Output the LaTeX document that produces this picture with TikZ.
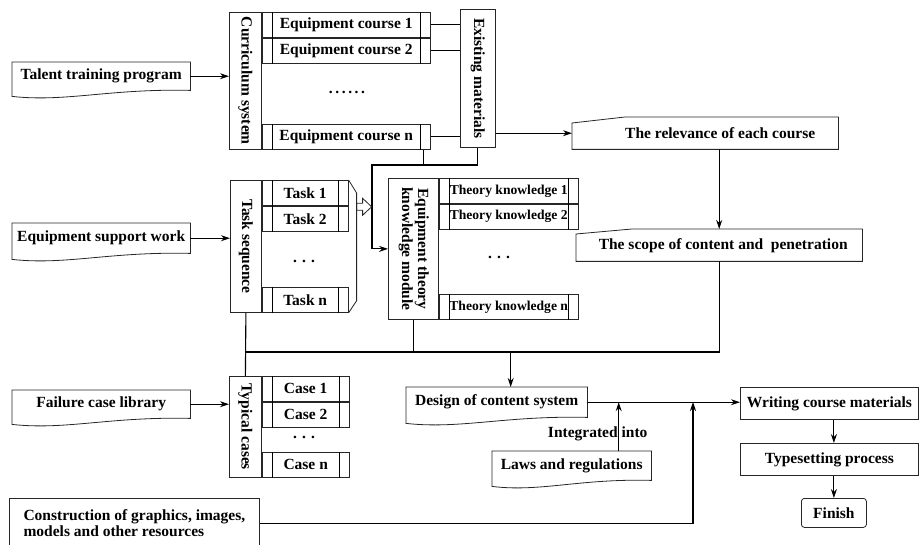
\documentclass[tikz,border=0pt]{standalone}
\usepackage{fontspec}
\setmainfont{Liberation Serif}
\usepackage{graphicx}
\usetikzlibrary{arrows.meta, positioning, calc}

% document shape: wavy bottom edge below the node
\newcommand\docshape[1]{%
  \draw[box] (#1.north west) -- (#1.north east) -- (#1.south east)
    .. controls ($(#1.south east)!0.45!(#1.south west)+(0,-2)$) and ($(#1.south east)!0.7!(#1.south west)+(0,12)$)
    .. ($(#1.south west)+(0,6)$) -- cycle;}
% manual input shape: slanted top left corner
\newcommand\inshape[3]{%
  \draw[box] ($(#1.north west)+(0,#3)$) -- ($(#1.north west)+(#2,0)$) -- (#1.north east)
    -- (#1.south east) -- (#1.south west) -- cycle;}

\begin{document}
\begin{tikzpicture}[x=1pt, y=-1pt,
  every node/.style={font=\fontsize{15.5}{16}\selectfont\bfseries, inner sep=0pt},
  box/.style={draw=black!85, line width=.8pt},
  vbox/.style={box, anchor=north west},
  sub/.style={box, minimum height=25, append after command={
      ([xshift=10pt]\tikzlastnode.north west) edge[line width=.6pt] ([xshift=10pt]\tikzlastnode.south west)
      ([xshift=-10pt]\tikzlastnode.north east) edge[line width=.6pt] ([xshift=-10pt]\tikzlastnode.south east)}},
  small/.style={font=\fontsize{13.6}{15}\selectfont\bfseries},
  arrow/.style={->, >={Stealth[length=9pt,width=6pt]}, line width=1.1pt},
  link/.style={line width=1.1pt}
]
\useasboundingbox (0,0) rectangle (919,545);

% inputs on the left
\node[anchor=north west, minimum width=178, minimum height=28] (talent) at (12,62) {Talent training program};
\node[anchor=north west, minimum width=178, minimum height=30] (equip) at (12,223) {Equipment support work};
\node[anchor=north west, minimum width=178, minimum height=28] (fail) at (12,390) {Failure case library};
\node[box, anchor=north west, minimum width=250, minimum height=50, align=left] (cons) at (9,498)
    {Construction of graphics, images,\\models and other resources};
\docshape{talent}
\docshape{equip}
\docshape{fail}

% curriculum system
\node[vbox, minimum width=32, minimum height=137] (cur) at (229,12) {\rotatebox{-90}{Curriculum system}};
\node[sub, minimum width=168, anchor=north west] (c1) at (cur.north east) {Equipment course 1};
\node[sub, minimum width=168, below=0pt of c1] (c2) {Equipment course 2};
\node[sub, minimum width=168, anchor=south west] (cn) at (cur.south east) {Equipment course n};
\node (cdots) at (347,92) {.\,.\,.\,.\,.\,.};
\node[vbox, minimum width=35, minimum height=138] (exist) at (460,9) {\rotatebox{-90}{Existing materials}};

% task sequence
\node[vbox, minimum width=31, minimum height=132] (task) at (230,180) {\rotatebox{-90}{Task sequence}};
\node[sub, minimum width=86, anchor=north west] (t1) at (task.north east) {Task 1};
\node[sub, minimum width=86, below=0pt of t1] (t2) {Task 2};
\node[sub, minimum width=86, anchor=south west] (tn) at (task.south east) {Task n};
\node (tdots) at (304,261) {. . .};

% knowledge module
\node[vbox, minimum width=50, minimum height=141] (mod) at (388,178)
    {\rotatebox{-90}{\begin{tabular}{@{}c@{}}Equipment theory\\knowledge module\end{tabular}}};
\node[sub, small, minimum width=139, anchor=north west] (k1) at (mod.north east) {Theory knowledge 1};
\node[sub, small, minimum width=139, below=0pt of k1] (k2) {Theory knowledge 2};
\node[sub, small, minimum width=139, anchor=south west] (kn) at (mod.south east) {Theory knowledge n};
\node (kdots) at (499,257) {. . .};

% typical cases
\node[vbox, minimum width=32, minimum height=101] (typ) at (229,376) {\rotatebox{-90}{Typical cases}};
\node[sub, minimum width=87, anchor=north west] (cs1) at (typ.north east) {Case 1};
\node[sub, minimum width=87, below=0pt of cs1] (cs2) {Case 2};
\node[sub, minimum width=87, anchor=south west] (csn) at (typ.south east) {Case n};
\node (csdots) at (304,437) {. . .};

% right column
\node[anchor=north west, minimum width=266, minimum height=32] (rel) at (572,117) {\hspace{30pt}The relevance of each course};
\node[anchor=north west, minimum width=286, minimum height=32] (scope) at (576,229) {\hspace{8pt}The scope of content and \ penetration};
\inshape{rel}{53}{6}
\inshape{scope}{56}{5}

\node[anchor=north west, minimum width=181, minimum height=30] (design) at (406,387) {Design of content system};
\node[anchor=north west, minimum width=159, minimum height=29] (laws) at (492,451) {Laws and regulations};
\docshape{design}
\docshape{laws}
\node[box, anchor=north west, minimum width=178, minimum height=32] (writing) at (740,387) {Writing course materials};
\node[box, anchor=north west, minimum width=178, minimum height=32] (typeset) at (740,443) {Typesetting process};
\node[box, rounded corners=3pt, anchor=north west, minimum width=65, minimum height=29] (fin) at (801,498) {Finish};

% connectors
\coordinate (bus) at (0,352);
\coordinate (jn) at (372,165);
\coordinate (cj) at (693,402);

\draw[arrow] (talent.east) -- (talent.east -| cur.west);
\draw[arrow] (equip.east) -- (equip.east -| task.west);
\draw[arrow] (fail.east) -- (fail.east -| typ.west);

\draw[link, line width=.8pt] (c1.east) -- (c1.east -| exist.west);
\draw[link, line width=.8pt] (c2.east) -- (c2.east -| exist.west);
\draw[link, line width=.8pt] (cn.east) -- (cn.east -| exist.west);
\draw[arrow] (rel.west -| exist.east) -- (rel.west);
\draw[arrow] (scope.north |- rel.south) -- (scope.north);

\draw[link] ([xshift=-7pt]cn.south east) coordinate (cnb) -- (cnb |- jn);
\draw[arrow] (exist.south) |- (jn) |- (mod.west);

% bracket and hollow arrow of the tasks
\draw[box] (t1.north east) -- ++(8,13) -- ([xshift=8pt,yshift=12pt]tn.south east) -- (tn.south east);
\draw[box] ([xshift=8pt]t1.south east) ++(0,-2.5) -- ++(6,0) -- ++(0,-5) -- ++(9,8.5)
    -- ++(-9,8.5) -- ++(0,-5) -- ++(-6,0) -- cycle;

\draw[link] (task.south) -- (typ.north);
\draw[link] (scope.south) |- (bus -| task.south);
\draw[link] (mod.south) -- (mod.south |- bus);
\path ([xshift=14pt]design.north) coordinate (din);
\draw[arrow] (din |- bus) -- (din);

\draw[arrow] (design.east) -- (design.east -| writing.west);
\path ([xshift=47pt]laws.north) coordinate (lin);
\draw[arrow] (lin) -- (lin |- design.east) node[pos=0.36, xshift=-21pt] {Integrated into};
\draw[arrow] (cons.east) -| (cj);
\draw[arrow] (writing.south -| fin.north) -- (typeset.north -| fin.north);
\draw[arrow] (typeset.south -| fin.north) -- (fin.north);
\end{tikzpicture}
\end{document}
